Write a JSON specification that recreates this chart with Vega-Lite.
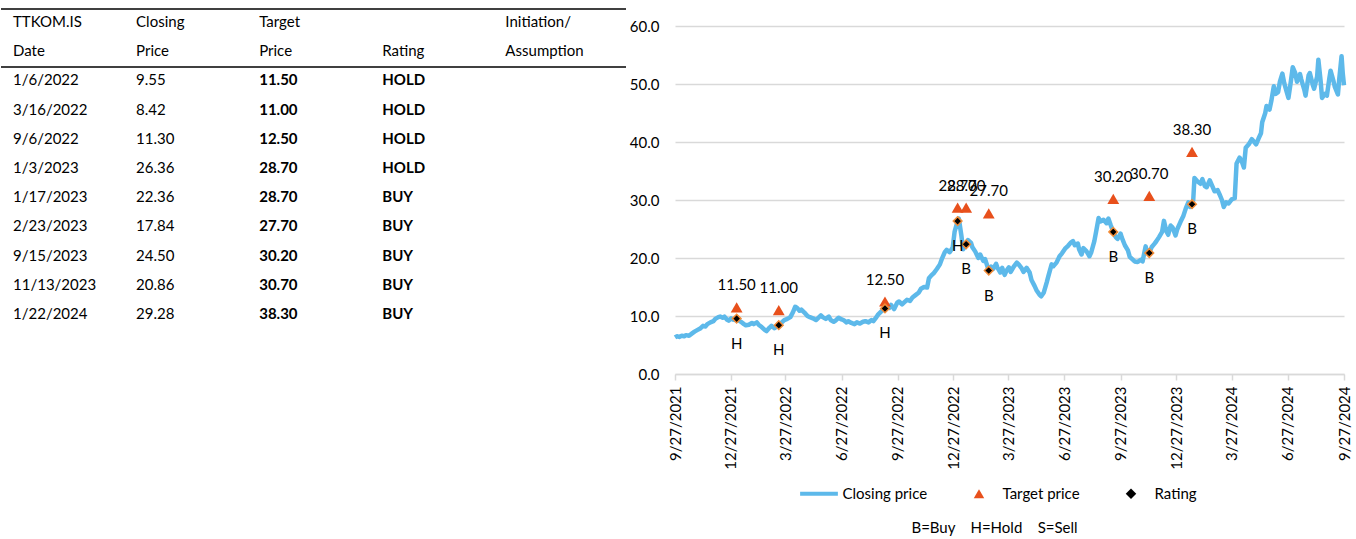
{
  "$schema": "https://vega.github.io/schema/vega-lite/v6.json",
  "padding": {"left": 0, "top": 8, "right": 8, "bottom": 4},
  "spacing": 2,
  "config": {"view": {"stroke": null}, "font": "Lato"},
  "datasets": {
    "header": [
      {"row": 0, "col": 0, "text": "TTKOM.IS"},
      {"row": 0, "col": 1, "text": "Closing"},
      {"row": 0, "col": 2, "text": "Target"},
      {"row": 0, "col": 4, "text": "Initiation/"},
      {"row": 1, "col": 0, "text": "Date"},
      {"row": 1, "col": 1, "text": "Price"},
      {"row": 1, "col": 2, "text": "Price"},
      {"row": 1, "col": 3, "text": "Rating"},
      {"row": 1, "col": 4, "text": "Assumption"}
    ],
    "table": [
      {"row": 2, "date": "1/6/2022", "close": "9.55", "target": "11.50", "rating": "HOLD"},
      {"row": 3, "date": "3/16/2022", "close": "8.42", "target": "11.00", "rating": "HOLD"},
      {"row": 4, "date": "9/6/2022", "close": "11.30", "target": "12.50", "rating": "HOLD"},
      {"row": 5, "date": "1/3/2023", "close": "26.36", "target": "28.70", "rating": "HOLD"},
      {"row": 6, "date": "1/17/2023", "close": "22.36", "target": "28.70", "rating": "BUY"},
      {"row": 7, "date": "2/23/2023", "close": "17.84", "target": "27.70", "rating": "BUY"},
      {"row": 8, "date": "9/15/2023", "close": "24.50", "target": "30.20", "rating": "BUY"},
      {"row": 9, "date": "11/13/2023", "close": "20.86", "target": "30.70", "rating": "BUY"},
      {"row": 10, "date": "1/22/2024", "close": "29.28", "target": "38.30", "rating": "BUY"}
    ],
    "events": [
      {"date": "2022-01-06", "close": 9.55, "target": 11.5, "rating": "H"},
      {"date": "2022-03-16", "close": 8.42, "target": 11.0, "rating": "H"},
      {"date": "2022-09-06", "close": 11.3, "target": 12.5, "rating": "H"},
      {"date": "2023-01-03", "close": 26.36, "target": 28.7, "rating": "H"},
      {"date": "2023-01-17", "close": 22.36, "target": 28.7, "rating": "B"},
      {"date": "2023-02-23", "close": 17.84, "target": 27.7, "rating": "B"},
      {"date": "2023-09-15", "close": 24.5, "target": 30.2, "rating": "B"},
      {"date": "2023-11-13", "close": 20.86, "target": 30.7, "rating": "B"},
      {"date": "2024-01-22", "close": 29.28, "target": 38.3, "rating": "B"}
    ],
    "prices": [
      {"date": "2021-09-27", "close": 6.3}, {"date": "2021-09-30", "close": 6.5}, {"date": "2021-10-04", "close": 6.4},
      {"date": "2021-10-08", "close": 6.6}, {"date": "2021-10-12", "close": 6.5}, {"date": "2021-10-15", "close": 6.7},
      {"date": "2021-10-20", "close": 6.6}, {"date": "2021-10-25", "close": 7.0}, {"date": "2021-10-29", "close": 7.3},
      {"date": "2021-11-03", "close": 7.6}, {"date": "2021-11-08", "close": 7.9}, {"date": "2021-11-12", "close": 8.3},
      {"date": "2021-11-16", "close": 8.2}, {"date": "2021-11-19", "close": 8.6}, {"date": "2021-11-24", "close": 8.9},
      {"date": "2021-11-29", "close": 9.1}, {"date": "2021-12-02", "close": 9.5}, {"date": "2021-12-07", "close": 9.8},
      {"date": "2021-12-10", "close": 9.9}, {"date": "2021-12-14", "close": 9.7}, {"date": "2021-12-17", "close": 9.9},
      {"date": "2021-12-21", "close": 9.4}, {"date": "2021-12-24", "close": 9.2}, {"date": "2021-12-28", "close": 9.6},
      {"date": "2021-12-31", "close": 9.4}, {"date": "2022-01-04", "close": 9.3}, {"date": "2022-01-06", "close": 9.55},
      {"date": "2022-01-10", "close": 9.2}, {"date": "2022-01-13", "close": 9.0}, {"date": "2022-01-18", "close": 8.6},
      {"date": "2022-01-21", "close": 8.4}, {"date": "2022-01-26", "close": 8.5}, {"date": "2022-01-31", "close": 8.8},
      {"date": "2022-02-03", "close": 8.6}, {"date": "2022-02-08", "close": 8.9}, {"date": "2022-02-11", "close": 8.5},
      {"date": "2022-02-16", "close": 8.1}, {"date": "2022-02-21", "close": 7.6}, {"date": "2022-02-24", "close": 7.4},
      {"date": "2022-03-01", "close": 8.0}, {"date": "2022-03-04", "close": 8.3}, {"date": "2022-03-09", "close": 7.9},
      {"date": "2022-03-16", "close": 8.42}, {"date": "2022-03-21", "close": 8.9}, {"date": "2022-03-25", "close": 9.3},
      {"date": "2022-03-30", "close": 9.5}, {"date": "2022-04-04", "close": 9.8}, {"date": "2022-04-08", "close": 10.6},
      {"date": "2022-04-12", "close": 11.6}, {"date": "2022-04-15", "close": 11.4}, {"date": "2022-04-19", "close": 10.9},
      {"date": "2022-04-22", "close": 11.1}, {"date": "2022-04-27", "close": 10.6}, {"date": "2022-05-02", "close": 10.0},
      {"date": "2022-05-06", "close": 9.8}, {"date": "2022-05-11", "close": 9.6}, {"date": "2022-05-16", "close": 9.3},
      {"date": "2022-05-19", "close": 9.6}, {"date": "2022-05-24", "close": 10.1}, {"date": "2022-05-27", "close": 9.8},
      {"date": "2022-06-01", "close": 9.5}, {"date": "2022-06-06", "close": 9.9}, {"date": "2022-06-09", "close": 9.3},
      {"date": "2022-06-14", "close": 9.0}, {"date": "2022-06-17", "close": 9.2}, {"date": "2022-06-22", "close": 9.7},
      {"date": "2022-06-27", "close": 9.4}, {"date": "2022-06-30", "close": 9.3}, {"date": "2022-07-05", "close": 8.9},
      {"date": "2022-07-08", "close": 9.1}, {"date": "2022-07-13", "close": 8.8}, {"date": "2022-07-18", "close": 8.6},
      {"date": "2022-07-22", "close": 8.9}, {"date": "2022-07-27", "close": 8.7}, {"date": "2022-08-01", "close": 9.0},
      {"date": "2022-08-05", "close": 9.1}, {"date": "2022-08-10", "close": 8.9}, {"date": "2022-08-15", "close": 9.3},
      {"date": "2022-08-18", "close": 9.1}, {"date": "2022-08-23", "close": 9.8}, {"date": "2022-08-26", "close": 10.3},
      {"date": "2022-08-31", "close": 10.8}, {"date": "2022-09-06", "close": 11.3}, {"date": "2022-09-09", "close": 11.8},
      {"date": "2022-09-13", "close": 11.4}, {"date": "2022-09-16", "close": 11.9}, {"date": "2022-09-21", "close": 11.2},
      {"date": "2022-09-26", "close": 12.3}, {"date": "2022-09-29", "close": 12.5}, {"date": "2022-10-04", "close": 12.0},
      {"date": "2022-10-07", "close": 12.3}, {"date": "2022-10-12", "close": 12.8}, {"date": "2022-10-17", "close": 12.6},
      {"date": "2022-10-21", "close": 13.2}, {"date": "2022-10-26", "close": 13.6}, {"date": "2022-10-31", "close": 14.0},
      {"date": "2022-11-04", "close": 14.7}, {"date": "2022-11-09", "close": 15.0}, {"date": "2022-11-14", "close": 14.9},
      {"date": "2022-11-17", "close": 16.5}, {"date": "2022-11-21", "close": 17.0}, {"date": "2022-11-25", "close": 17.4},
      {"date": "2022-11-30", "close": 18.1}, {"date": "2022-12-05", "close": 18.9}, {"date": "2022-12-08", "close": 19.8},
      {"date": "2022-12-13", "close": 21.0}, {"date": "2022-12-16", "close": 21.4}, {"date": "2022-12-21", "close": 21.0},
      {"date": "2022-12-26", "close": 21.8}, {"date": "2022-12-29", "close": 24.5}, {"date": "2023-01-03", "close": 26.36},
      {"date": "2023-01-05", "close": 26.8}, {"date": "2023-01-09", "close": 24.0}, {"date": "2023-01-12", "close": 21.5},
      {"date": "2023-01-17", "close": 22.36}, {"date": "2023-01-20", "close": 23.1}, {"date": "2023-01-25", "close": 22.6},
      {"date": "2023-01-27", "close": 21.9}, {"date": "2023-02-01", "close": 21.1}, {"date": "2023-02-06", "close": 20.0},
      {"date": "2023-02-09", "close": 20.6}, {"date": "2023-02-14", "close": 19.5}, {"date": "2023-02-17", "close": 19.8},
      {"date": "2023-02-23", "close": 17.84}, {"date": "2023-02-27", "close": 18.5}, {"date": "2023-03-02", "close": 18.1},
      {"date": "2023-03-07", "close": 19.0}, {"date": "2023-03-09", "close": 18.4}, {"date": "2023-03-14", "close": 17.5},
      {"date": "2023-03-17", "close": 18.3}, {"date": "2023-03-21", "close": 17.1}, {"date": "2023-03-24", "close": 17.8},
      {"date": "2023-03-28", "close": 18.4}, {"date": "2023-03-31", "close": 17.6}, {"date": "2023-04-05", "close": 18.5},
      {"date": "2023-04-10", "close": 19.2}, {"date": "2023-04-13", "close": 18.9}, {"date": "2023-04-18", "close": 18.2},
      {"date": "2023-04-21", "close": 17.6}, {"date": "2023-04-26", "close": 18.3}, {"date": "2023-05-01", "close": 17.5},
      {"date": "2023-05-04", "close": 16.2}, {"date": "2023-05-09", "close": 15.2}, {"date": "2023-05-12", "close": 14.5},
      {"date": "2023-05-17", "close": 13.7}, {"date": "2023-05-20", "close": 13.4}, {"date": "2023-05-24", "close": 14.0},
      {"date": "2023-05-29", "close": 15.8}, {"date": "2023-06-01", "close": 17.0}, {"date": "2023-06-06", "close": 18.9},
      {"date": "2023-06-09", "close": 18.6}, {"date": "2023-06-14", "close": 19.2}, {"date": "2023-06-19", "close": 20.3},
      {"date": "2023-06-23", "close": 20.8}, {"date": "2023-06-28", "close": 21.6}, {"date": "2023-07-03", "close": 22.1},
      {"date": "2023-07-07", "close": 22.6}, {"date": "2023-07-11", "close": 22.9}, {"date": "2023-07-14", "close": 22.2},
      {"date": "2023-07-19", "close": 22.5}, {"date": "2023-07-21", "close": 21.5}, {"date": "2023-07-25", "close": 20.6},
      {"date": "2023-07-28", "close": 21.7}, {"date": "2023-08-02", "close": 21.2}, {"date": "2023-08-07", "close": 20.3},
      {"date": "2023-08-10", "close": 21.0}, {"date": "2023-08-15", "close": 22.9}, {"date": "2023-08-18", "close": 24.6},
      {"date": "2023-08-22", "close": 26.9}, {"date": "2023-08-25", "close": 26.3}, {"date": "2023-08-30", "close": 26.6},
      {"date": "2023-09-04", "close": 26.0}, {"date": "2023-09-07", "close": 26.8}, {"date": "2023-09-11", "close": 25.6},
      {"date": "2023-09-15", "close": 24.5}, {"date": "2023-09-19", "close": 23.6}, {"date": "2023-09-22", "close": 23.3},
      {"date": "2023-09-27", "close": 24.2}, {"date": "2023-09-29", "close": 23.5}, {"date": "2023-10-04", "close": 22.2},
      {"date": "2023-10-09", "close": 21.3}, {"date": "2023-10-12", "close": 20.2}, {"date": "2023-10-17", "close": 19.7},
      {"date": "2023-10-20", "close": 19.4}, {"date": "2023-10-25", "close": 19.3}, {"date": "2023-10-30", "close": 19.7},
      {"date": "2023-11-02", "close": 19.4}, {"date": "2023-11-07", "close": 22.0}, {"date": "2023-11-09", "close": 21.2},
      {"date": "2023-11-13", "close": 20.86}, {"date": "2023-11-17", "close": 21.9}, {"date": "2023-11-21", "close": 22.4},
      {"date": "2023-11-24", "close": 22.8}, {"date": "2023-11-29", "close": 23.6}, {"date": "2023-12-04", "close": 24.5},
      {"date": "2023-12-07", "close": 26.4}, {"date": "2023-12-11", "close": 24.6}, {"date": "2023-12-14", "close": 24.0},
      {"date": "2023-12-18", "close": 25.6}, {"date": "2023-12-21", "close": 25.3}, {"date": "2023-12-26", "close": 23.9},
      {"date": "2023-12-29", "close": 25.0}, {"date": "2024-01-03", "close": 26.2}, {"date": "2024-01-08", "close": 27.3},
      {"date": "2024-01-12", "close": 28.6}, {"date": "2024-01-16", "close": 29.6}, {"date": "2024-01-19", "close": 28.8},
      {"date": "2024-01-22", "close": 29.28}, {"date": "2024-01-24", "close": 30.0}, {"date": "2024-01-26", "close": 33.8},
      {"date": "2024-01-31", "close": 33.2}, {"date": "2024-02-05", "close": 32.8}, {"date": "2024-02-08", "close": 33.6},
      {"date": "2024-02-12", "close": 32.4}, {"date": "2024-02-15", "close": 32.2}, {"date": "2024-02-20", "close": 33.4},
      {"date": "2024-02-23", "close": 32.7}, {"date": "2024-02-28", "close": 31.5}, {"date": "2024-03-04", "close": 31.7},
      {"date": "2024-03-07", "close": 31.0}, {"date": "2024-03-11", "close": 30.0}, {"date": "2024-03-14", "close": 28.8},
      {"date": "2024-03-18", "close": 29.6}, {"date": "2024-03-22", "close": 29.4}, {"date": "2024-03-27", "close": 30.1},
      {"date": "2024-04-01", "close": 30.3}, {"date": "2024-04-04", "close": 36.3}, {"date": "2024-04-09", "close": 37.3},
      {"date": "2024-04-12", "close": 36.8}, {"date": "2024-04-16", "close": 35.6}, {"date": "2024-04-19", "close": 39.0},
      {"date": "2024-04-24", "close": 39.6}, {"date": "2024-04-29", "close": 40.5}, {"date": "2024-05-03", "close": 40.0},
      {"date": "2024-05-06", "close": 39.6}, {"date": "2024-05-10", "close": 40.6}, {"date": "2024-05-14", "close": 41.5},
      {"date": "2024-05-16", "close": 43.4}, {"date": "2024-05-21", "close": 45.0}, {"date": "2024-05-23", "close": 46.2},
      {"date": "2024-05-28", "close": 45.6}, {"date": "2024-05-31", "close": 47.1}, {"date": "2024-06-04", "close": 49.6},
      {"date": "2024-06-07", "close": 48.3}, {"date": "2024-06-11", "close": 48.6}, {"date": "2024-06-14", "close": 50.4},
      {"date": "2024-06-18", "close": 51.8}, {"date": "2024-06-21", "close": 50.2}, {"date": "2024-06-25", "close": 48.7},
      {"date": "2024-06-28", "close": 47.6}, {"date": "2024-07-02", "close": 50.5}, {"date": "2024-07-05", "close": 52.9},
      {"date": "2024-07-09", "close": 51.9}, {"date": "2024-07-12", "close": 50.4}, {"date": "2024-07-17", "close": 51.7},
      {"date": "2024-07-19", "close": 50.8}, {"date": "2024-07-24", "close": 49.0}, {"date": "2024-07-26", "close": 48.0},
      {"date": "2024-07-31", "close": 51.5}, {"date": "2024-08-02", "close": 51.9}, {"date": "2024-08-07", "close": 49.8},
      {"date": "2024-08-09", "close": 49.2}, {"date": "2024-08-14", "close": 51.3}, {"date": "2024-08-16", "close": 54.2},
      {"date": "2024-08-20", "close": 50.2}, {"date": "2024-08-22", "close": 47.6}, {"date": "2024-08-27", "close": 48.3},
      {"date": "2024-08-30", "close": 48.0}, {"date": "2024-09-03", "close": 51.0}, {"date": "2024-09-05", "close": 52.3},
      {"date": "2024-09-10", "close": 50.4}, {"date": "2024-09-12", "close": 49.5}, {"date": "2024-09-17", "close": 48.2},
      {"date": "2024-09-19", "close": 50.6}, {"date": "2024-09-23", "close": 54.8}, {"date": "2024-09-25", "close": 51.8},
      {"date": "2024-09-27", "close": 49.8}
    ]
  },
  "hconcat": [
    {
      "width": 625,
      "height": 348,
      "layer": [
        {
          "data": {"name": "header"},
          "mark": {"type": "text", "align": "left", "baseline": "middle", "fontSize": 15, "color": "black"},
          "encoding": {
            "x": {"field": "col", "type": "quantitative", "scale": {"domain": [-0.0976, 4.98], "nice": false, "zero": false}, "axis": null},
            "y": {"field": "row", "type": "quantitative", "scale": {"domain": [0.137, 12.055], "reverse": true, "nice": false, "zero": false}, "axis": null},
            "text": {"field": "text"}
          }
        },
        {
          "data": {"name": "table"},
          "mark": {"type": "text", "align": "left", "baseline": "middle", "fontSize": 15, "color": "black"},
          "encoding": {
            "x": {"datum": 0, "type": "quantitative"},
            "y": {"field": "row", "type": "quantitative"},
            "text": {"field": "date"}
          }
        },
        {
          "data": {"name": "table"},
          "mark": {"type": "text", "align": "left", "baseline": "middle", "fontSize": 15, "color": "black"},
          "encoding": {
            "x": {"datum": 1, "type": "quantitative"},
            "y": {"field": "row", "type": "quantitative"},
            "text": {"field": "close"}
          }
        },
        {
          "data": {"name": "table"},
          "mark": {"type": "text", "align": "left", "baseline": "middle", "fontSize": 15, "fontWeight": "bold", "color": "black"},
          "encoding": {
            "x": {"datum": 2, "type": "quantitative"},
            "y": {"field": "row", "type": "quantitative"},
            "text": {"field": "target"}
          }
        },
        {
          "data": {"name": "table"},
          "mark": {"type": "text", "align": "left", "baseline": "middle", "fontSize": 15, "fontWeight": "bold", "color": "black"},
          "encoding": {
            "x": {"datum": 3, "type": "quantitative"},
            "y": {"field": "row", "type": "quantitative"},
            "text": {"field": "rating"}
          }
        },
        {
          "data": {"values": [{}]},
          "mark": {"type": "rule", "color": "black", "strokeWidth": 1.5},
          "encoding": {"y": {"datum": -0.445, "type": "quantitative"}}
        },
        {
          "data": {"values": [{}]},
          "mark": {"type": "rule", "color": "black", "strokeWidth": 1.5},
          "encoding": {"y": {"datum": 1.541, "type": "quantitative"}}
        }
      ]
    },
    {
      "width": 669,
      "height": 348,
      "title": {"text": "B=Buy\u00a0\u00a0\u00a0 H=Hold\u00a0\u00a0\u00a0 S=Sell", "orient": "bottom", "anchor": "middle", "frame": "group", "fontSize": 15, "fontWeight": "normal", "color": "black", "offset": 52, "dx": -15},
      "layer": [
        {
          "data": {"name": "prices"},
          "mark": {"type": "line", "strokeWidth": 4.5, "strokeJoin": "round"},
          "encoding": {
            "x": {
              "field": "date", "type": "temporal",
              "scale": {"type": "utc", "domain": [{"year": 2021, "month": 9, "date": 27, "utc": true}, {"year": 2024, "month": 9, "date": 27, "utc": true}], "nice": false},
              "axis": {
                "values": [
                  {"year": 2021, "month": 9, "date": 27, "utc": true},
                  {"year": 2021, "month": 12, "date": 27, "utc": true},
                  {"year": 2022, "month": 3, "date": 27, "utc": true},
                  {"year": 2022, "month": 6, "date": 27, "utc": true},
                  {"year": 2022, "month": 9, "date": 27, "utc": true},
                  {"year": 2022, "month": 12, "date": 27, "utc": true},
                  {"year": 2023, "month": 3, "date": 27, "utc": true},
                  {"year": 2023, "month": 6, "date": 27, "utc": true},
                  {"year": 2023, "month": 9, "date": 27, "utc": true},
                  {"year": 2023, "month": 12, "date": 27, "utc": true},
                  {"year": 2024, "month": 3, "date": 27, "utc": true},
                  {"year": 2024, "month": 6, "date": 27, "utc": true},
                  {"year": 2024, "month": 9, "date": 27, "utc": true}
                ],
                "format": "%-m/%-d/%Y",
                "labelAngle": 270, "labelAlign": "right", "labelBaseline": "middle",
                "labelFontSize": 15, "labelColor": "black", "labelPadding": 6,
                "tickSize": 6, "tickColor": "#D9D9D9", "tickWidth": 1.5,
                "domainColor": "#D9D9D9", "domainWidth": 1.5,
                "grid": false, "title": null, "labelOverlap": false, "labelFlush": false, "labelBound": false
              }
            },
            "y": {
              "field": "close", "type": "quantitative",
              "scale": {"domain": [0, 60], "nice": false},
              "axis": {
                "values": [0, 10, 20, 30, 40, 50, 60], "format": ".1f",
                "grid": true, "gridColor": "#D9D9D9", "gridWidth": 1.5,
                "domain": false, "ticks": false, "tickSize": 0, "labelPadding": 16,
                "labelFontSize": 15, "labelColor": "black", "title": null
              }
            },
            "color": {
              "datum": "Closing price",
              "scale": {"domain": ["Closing price", "Target price", "Rating"], "range": ["#5DB9EA", "#E8501C", "#000000"]},
              "legend": {
                "orient": "none", "legendX": 798, "legendY": 460, "direction": "horizontal", "title": null,
                "labelFontSize": 15, "labelColor": "black", "symbolSize": 110, "symbolStrokeWidth": 0,
                "symbolOffset": 12.5, "labelOffset": 16, "columnPadding": 31, "symbolOpacity": 1
              }
            }
          }
        },
        {
          "data": {"name": "events"},
          "mark": {"type": "point", "filled": true, "size": 140, "opacity": 1},
          "encoding": {
            "x": {"field": "date", "type": "temporal"},
            "y": {"field": "target", "type": "quantitative"},
            "color": {"datum": "Target price"},
            "shape": {
              "datum": "Target price",
              "scale": {"domain": ["Closing price", "Target price", "Rating"], "range": ["M-3.6,-0.4H3.6V0.4H-3.6Z", "triangle-up", "diamond"]}
            }
          }
        },
        {
          "data": {"name": "events"},
          "mark": {"type": "text", "dy": -22, "fontSize": 15, "color": "black"},
          "encoding": {
            "x": {"field": "date", "type": "temporal"},
            "y": {"field": "target", "type": "quantitative"},
            "text": {"field": "target", "type": "quantitative", "format": ".2f"}
          }
        },
        {
          "data": {"name": "events"},
          "mark": {"type": "point", "filled": true, "size": 75, "stroke": "#F28C38", "strokeWidth": 1.5, "opacity": 1},
          "encoding": {
            "x": {"field": "date", "type": "temporal"},
            "y": {"field": "close", "type": "quantitative"},
            "color": {"datum": "Rating"},
            "shape": {"datum": "Rating"}
          }
        },
        {
          "data": {"name": "events"},
          "mark": {"type": "text", "dy": 25, "fontSize": 15, "color": "black"},
          "encoding": {
            "x": {"field": "date", "type": "temporal"},
            "y": {"field": "close", "type": "quantitative"},
            "text": {"field": "rating"}
          }
        }
      ]
    }
  ]
}
